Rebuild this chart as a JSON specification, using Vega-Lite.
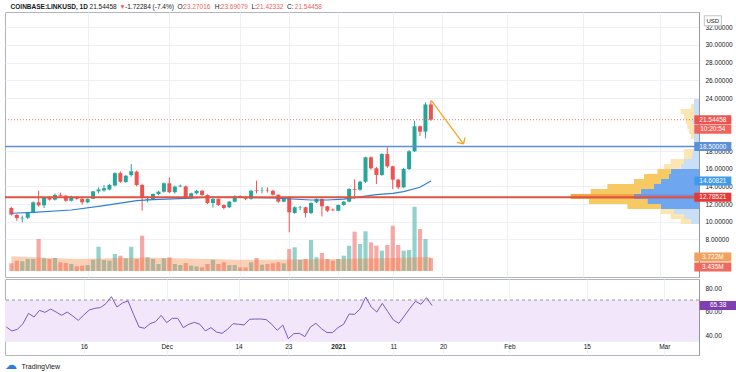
{
"$schema":"https://vega.github.io/schema/vega-lite/v6.json",
"padding":{"left":3,"top":2,"right":0,"bottom":0},
"background":"white",
"config":{"font":"Liberation Sans","view":{"stroke":"#b2b5be","strokeWidth":1},"axis":{"labelFont":"Liberation Sans","labelFontSize":6.5,"labelColor":"#131722","labelOverlap":false}},
"datasets":{
"candles":[
{"d":"2020-11-02","o":11.56,"h":11.70,"l":10.70,"c":10.81,"v":2.05,"rsi":47.3},
{"d":"2020-11-03","o":10.78,"h":10.85,"l":10.10,"c":10.42,"v":2.74,"rsi":43.95},
{"d":"2020-11-04","o":10.38,"h":10.70,"l":9.95,"c":10.45,"v":2.58,"rsi":45.35},
{"d":"2020-11-05","o":10.45,"h":11.10,"l":10.30,"c":11.00,"v":3.19,"rsi":50.1},
{"d":"2020-11-06","o":11.00,"h":12.30,"l":10.95,"c":12.20,"v":3.19,"rsi":58.8},
{"d":"2020-11-07","o":12.20,"h":13.50,"l":11.70,"c":11.86,"v":8.51,"rsi":55.7},
{"d":"2020-11-08","o":11.86,"h":12.80,"l":11.55,"c":12.70,"v":3.38,"rsi":61.3},
{"d":"2020-11-09","o":12.77,"h":12.90,"l":12.40,"c":12.50,"v":3.19,"rsi":59.6},
{"d":"2020-11-10","o":12.50,"h":13.20,"l":12.40,"c":13.03,"v":3.46,"rsi":62.4},
{"d":"2020-11-11","o":13.05,"h":13.30,"l":12.80,"c":12.95,"v":2.31,"rsi":59.9},
{"d":"2020-11-12","o":12.95,"h":13.00,"l":12.25,"c":12.38,"v":2.13,"rsi":57.1},
{"d":"2020-11-13","o":12.38,"h":12.95,"l":12.30,"c":12.84,"v":1.86,"rsi":59.9},
{"d":"2020-11-14","o":12.84,"h":12.90,"l":12.50,"c":12.60,"v":1.25,"rsi":56.6},
{"d":"2020-11-15","o":12.60,"h":12.65,"l":11.95,"c":12.20,"v":1.41,"rsi":52.9},
{"d":"2020-11-16","o":12.20,"h":12.65,"l":12.10,"c":12.57,"v":1.60,"rsi":57.4},
{"d":"2020-11-17","o":12.60,"h":13.50,"l":12.55,"c":13.44,"v":3.00,"rsi":61.6},
{"d":"2020-11-18","o":13.44,"h":13.90,"l":13.20,"c":13.65,"v":6.46,"rsi":63.0},
{"d":"2020-11-19","o":13.55,"h":14.16,"l":13.40,"c":13.79,"v":2.93,"rsi":63.6},
{"d":"2020-11-20","o":13.65,"h":14.30,"l":13.55,"c":14.16,"v":2.74,"rsi":66.9},
{"d":"2020-11-21","o":14.10,"h":15.60,"l":14.00,"c":15.50,"v":4.52,"rsi":72.8},
{"d":"2020-11-22","o":15.50,"h":15.70,"l":14.40,"c":14.53,"v":4.07,"rsi":64.1},
{"d":"2020-11-23","o":14.50,"h":15.30,"l":14.40,"c":15.20,"v":3.38,"rsi":67.5},
{"d":"2020-11-24","o":15.29,"h":16.53,"l":15.10,"c":15.71,"v":6.46,"rsi":69.2},
{"d":"2020-11-25","o":15.67,"h":15.80,"l":14.00,"c":14.16,"v":3.19,"rsi":57.96},
{"d":"2020-11-26","o":14.16,"h":14.30,"l":11.25,"c":12.77,"v":9.39,"rsi":47.3},
{"d":"2020-11-27","o":12.50,"h":12.90,"l":12.20,"c":12.60,"v":3.64,"rsi":46.2},
{"d":"2020-11-28","o":12.57,"h":13.20,"l":12.50,"c":13.14,"v":3.19,"rsi":50.1},
{"d":"2020-11-29","o":13.14,"h":13.50,"l":13.00,"c":13.40,"v":1.86,"rsi":51.8},
{"d":"2020-11-30","o":13.40,"h":14.45,"l":13.30,"c":14.35,"v":3.38,"rsi":57.1},
{"d":"2020-12-01","o":14.35,"h":15.03,"l":13.25,"c":13.34,"v":3.64,"rsi":50.96},
{"d":"2020-12-02","o":13.34,"h":14.10,"l":13.20,"c":13.97,"v":1.86,"rsi":54.6},
{"d":"2020-12-03","o":14.00,"h":14.20,"l":13.90,"c":14.08,"v":1.60,"rsi":54.6},
{"d":"2020-12-04","o":14.00,"h":14.10,"l":12.55,"c":12.65,"v":2.13,"rsi":46.8},
{"d":"2020-12-05","o":12.65,"h":13.30,"l":12.55,"c":13.22,"v":1.41,"rsi":49.6},
{"d":"2020-12-06","o":13.22,"h":13.60,"l":13.10,"c":13.50,"v":1.25,"rsi":51.2},
{"d":"2020-12-07","o":13.50,"h":13.60,"l":12.95,"c":13.03,"v":0.98,"rsi":49.6},
{"d":"2020-12-08","o":13.03,"h":13.10,"l":12.00,"c":12.12,"v":1.86,"rsi":43.95},
{"d":"2020-12-09","o":12.12,"h":12.70,"l":11.60,"c":12.57,"v":3.00,"rsi":46.8},
{"d":"2020-12-10","o":12.57,"h":12.65,"l":11.80,"c":11.90,"v":1.86,"rsi":43.1},
{"d":"2020-12-11","o":11.90,"h":11.95,"l":11.40,"c":11.56,"v":2.31,"rsi":42.0},
{"d":"2020-12-12","o":11.64,"h":12.35,"l":11.55,"c":12.27,"v":1.60,"rsi":45.35},
{"d":"2020-12-13","o":12.27,"h":13.00,"l":12.20,"c":12.88,"v":1.60,"rsi":50.1},
{"d":"2020-12-14","o":12.90,"h":13.00,"l":12.70,"c":12.80,"v":0.98,"rsi":49.6},
{"d":"2020-12-15","o":12.80,"h":12.90,"l":12.45,"c":12.60,"v":0.98,"rsi":49.0},
{"d":"2020-12-16","o":12.60,"h":13.60,"l":12.50,"c":13.50,"v":2.31,"rsi":53.8},
{"d":"2020-12-17","o":13.55,"h":14.65,"l":13.20,"c":13.48,"v":3.46,"rsi":54.0},
{"d":"2020-12-18","o":13.48,"h":13.90,"l":13.20,"c":13.52,"v":1.68,"rsi":54.0},
{"d":"2020-12-19","o":13.60,"h":13.90,"l":13.30,"c":13.55,"v":1.86,"rsi":53.5},
{"d":"2020-12-20","o":13.50,"h":13.60,"l":12.95,"c":13.06,"v":2.05,"rsi":49.6},
{"d":"2020-12-21","o":13.06,"h":13.10,"l":12.15,"c":12.27,"v":2.31,"rsi":44.5},
{"d":"2020-12-22","o":12.27,"h":12.85,"l":12.20,"c":12.77,"v":2.05,"rsi":49.0},
{"d":"2020-12-23","o":12.77,"h":12.90,"l":8.80,"c":11.07,"v":5.85,"rsi":37.5},
{"d":"2020-12-24","o":10.99,"h":11.75,"l":10.90,"c":11.64,"v":6.30,"rsi":41.7},
{"d":"2020-12-25","o":11.60,"h":11.80,"l":11.30,"c":11.65,"v":3.00,"rsi":42.0},
{"d":"2020-12-26","o":11.64,"h":11.70,"l":10.50,"c":10.99,"v":3.19,"rsi":39.2},
{"d":"2020-12-27","o":10.99,"h":12.20,"l":10.85,"c":12.12,"v":8.24,"rsi":47.3},
{"d":"2020-12-28","o":12.20,"h":12.65,"l":12.10,"c":12.57,"v":3.64,"rsi":50.4},
{"d":"2020-12-29","o":12.57,"h":12.65,"l":10.60,"c":11.75,"v":4.79,"rsi":45.9},
{"d":"2020-12-30","o":11.75,"h":11.80,"l":11.10,"c":11.25,"v":3.19,"rsi":42.6},
{"d":"2020-12-31","o":11.38,"h":11.50,"l":11.20,"c":11.30,"v":2.74,"rsi":42.6},
{"d":"2021-01-01","o":11.25,"h":11.95,"l":11.20,"c":11.90,"v":3.19,"rsi":46.8},
{"d":"2021-01-02","o":11.90,"h":12.35,"l":11.80,"c":12.27,"v":4.07,"rsi":49.6},
{"d":"2021-01-03","o":12.27,"h":13.80,"l":12.20,"c":13.70,"v":6.73,"rsi":58.2},
{"d":"2021-01-04","o":13.70,"h":14.80,"l":12.60,"c":13.62,"v":10.45,"rsi":57.96},
{"d":"2021-01-05","o":13.63,"h":14.65,"l":13.50,"c":14.53,"v":7.18,"rsi":62.7},
{"d":"2021-01-06","o":14.53,"h":17.35,"l":14.40,"c":17.29,"v":10.56,"rsi":72.5},
{"d":"2021-01-07","o":17.29,"h":17.40,"l":15.90,"c":16.05,"v":7.63,"rsi":64.1},
{"d":"2021-01-08","o":16.05,"h":16.20,"l":14.27,"c":15.29,"v":6.73,"rsi":59.9},
{"d":"2021-01-09","o":15.29,"h":17.75,"l":15.20,"c":17.66,"v":5.40,"rsi":67.2},
{"d":"2021-01-10","o":17.66,"h":18.42,"l":16.10,"c":16.27,"v":6.91,"rsi":60.2},
{"d":"2021-01-11","o":16.27,"h":16.35,"l":13.70,"c":14.76,"v":12.05,"rsi":53.2},
{"d":"2021-01-12","o":14.76,"h":14.85,"l":13.70,"c":13.90,"v":6.91,"rsi":50.4},
{"d":"2021-01-13","o":13.90,"h":16.10,"l":13.80,"c":15.97,"v":5.40,"rsi":56.6},
{"d":"2021-01-14","o":15.97,"h":18.10,"l":15.85,"c":17.97,"v":5.59,"rsi":63.0},
{"d":"2021-01-15","o":17.97,"h":21.43,"l":17.90,"c":20.80,"v":17.10,"rsi":68.9},
{"d":"2021-01-16","o":20.80,"h":20.90,"l":19.70,"c":20.19,"v":11.17,"rsi":66.4},
{"d":"2021-01-17","o":20.19,"h":23.50,"l":19.44,"c":23.27,"v":8.51,"rsi":71.96},
{"d":"2021-01-18","o":23.27016,"h":23.69079,"l":21.42332,"c":21.54458,"v":3.435,"rsi":65.38}
],
"sma":[
{"d":"2020-11-02","sma":10.96},{"d":"2020-11-06","sma":11.07},{"d":"2020-11-13","sma":11.33},{"d":"2020-11-19","sma":11.82},{"d":"2020-11-25","sma":12.38},{"d":"2020-11-28","sma":12.5},{"d":"2020-12-04","sma":12.65},{"d":"2020-12-08","sma":12.77},{"d":"2020-12-14","sma":12.77},{"d":"2020-12-20","sma":12.69},{"d":"2020-12-27","sma":12.46},{"d":"2020-12-30","sma":12.46},{"d":"2021-01-02","sma":12.57},{"d":"2021-01-08","sma":13.06},{"d":"2021-01-11","sma":13.22},{"d":"2021-01-13","sma":13.4},{"d":"2021-01-16","sma":13.9},{"d":"2021-01-18","sma":14.60821}
],
"vma":[
{"d":"2020-11-02","vma":3.9},{"d":"2020-11-08","vma":3.5},{"d":"2020-11-14","vma":3.2},{"d":"2020-11-20","vma":3.4},{"d":"2020-11-27","vma":3.6},{"d":"2020-12-04","vma":3.3},{"d":"2020-12-14","vma":3.0},{"d":"2020-12-23","vma":3.05},{"d":"2021-01-01","vma":3.2},{"d":"2021-01-09","vma":3.4},{"d":"2021-01-18","vma":3.722}
],
"profile":[
{"lo":23.321,"hi":23.887,"up":0.72,"total":0.72,"zone":"out"},
{"lo":22.756,"hi":23.321,"up":0.72,"total":1.15,"zone":"out"},
{"lo":22.190,"hi":22.756,"up":0.72,"total":2.64,"zone":"out"},
{"lo":21.624,"hi":22.190,"up":0.72,"total":2.16,"zone":"out"},
{"lo":21.059,"hi":21.624,"up":0.97,"total":1.93,"zone":"out"},
{"lo":20.493,"hi":21.059,"up":0.72,"total":1.69,"zone":"out"},
{"lo":19.928,"hi":20.493,"up":0.72,"total":1.44,"zone":"out"},
{"lo":19.362,"hi":19.928,"up":0.72,"total":1.15,"zone":"out"},
{"lo":18.796,"hi":19.362,"up":0.72,"total":0.72,"zone":"out"},
{"lo":18.231,"hi":18.796,"up":0.72,"total":0.72,"zone":"out"},
{"lo":17.665,"hi":18.231,"up":0.97,"total":2.16,"zone":"out"},
{"lo":17.100,"hi":17.665,"up":1.0,"total":2.16,"zone":"out"},
{"lo":16.534,"hi":17.100,"up":2.16,"total":4.08,"zone":"out"},
{"lo":15.968,"hi":16.534,"up":2.64,"total":5.04,"zone":"out"},
{"lo":15.403,"hi":15.968,"up":4.08,"total":6.0,"zone":"va"},
{"lo":14.837,"hi":15.403,"up":4.32,"total":7.93,"zone":"va"},
{"lo":14.271,"hi":14.837,"up":5.52,"total":9.37,"zone":"va"},
{"lo":13.706,"hi":14.271,"up":6.48,"total":13.2,"zone":"va"},
{"lo":13.140,"hi":13.706,"up":8.4,"total":15.6,"zone":"va"},
{"lo":12.575,"hi":13.140,"up":9.37,"total":18.49,"zone":"poc"},
{"lo":12.009,"hi":12.575,"up":7.45,"total":15.85,"zone":"va"},
{"lo":11.443,"hi":12.009,"up":5.52,"total":10.32,"zone":"va"},
{"lo":10.878,"hi":11.443,"up":3.6,"total":5.52,"zone":"out"},
{"lo":10.312,"hi":10.878,"up":2.16,"total":4.08,"zone":"out"},
{"lo":9.747,"hi":10.312,"up":1.2,"total":2.64,"zone":"out"}
],
"levels":[{"price":18.5,"kind":"level"},{"price":12.78521,"kind":"support"},{"price":21.54458,"kind":"last"}],
"arrow":[
{"x1":"2021-01-18T01:40:00Z","y1":23.72,"x2":"2021-01-23T23:15:00Z","y2":18.80},
{"x1":"2021-01-22T18:40:00Z","y1":18.99,"x2":"2021-01-23T23:15:00Z","y2":18.80},
{"x1":"2021-01-24T06:45:00Z","y1":19.55,"x2":"2021-01-23T23:15:00Z","y2":18.80}
],
"plabels":[
{"text":"21.54458","price":21.54458,"kind":"last"},
{"text":"18.50000","price":18.5,"kind":"level"},
{"text":"14.60821","price":14.60821,"kind":"sma"},
{"text":"12.78521","price":12.78521,"kind":"support"}
],
"timer":[{"text":"10:20:54","price":21.54458}],
"vlabels":[{"text":"3.722M","v":3.722,"kind":"vma"}],
"vlabels2":[{"text":"3.435M","v":3.435,"kind":"vol"}],
"rlabels":[{"text":"65.38","rsi":65.38}]
},
"spacing":0,
"resolve":{"scale":{"x":"independent","y":"independent","color":"independent"}},
"vconcat":[
{
"width":694,"height":265,
"resolve":{"scale":{"x":"independent","y":"independent","color":"independent"}},
"layer":[
{
"data":{"name":"profile"},
"resolve":{"scale":{"color":"independent"}},
"layer":[
{"mark":{"type":"bar"},
"encoding":{
"x":{"field":"up","type":"quantitative","scale":{"domain":[0,100],"reverse":true,"nice":false,"zero":true},"axis":null},
"x2":{"datum":0},
"y":{"field":"lo","type":"quantitative","scale":{"domain":[3.75,33.73],"nice":false,"zero":false},"axis":null},
"y2":{"field":"hi"},
"color":{"field":"zone","type":"nominal","scale":{"domain":["out","va","poc"],"range":["#c9def7","#6ea7ef","#7a92d8"]},"legend":null}}},
{"mark":{"type":"bar"},
"encoding":{
"x":{"field":"total","type":"quantitative"},
"x2":{"field":"up"},
"y":{"field":"lo","type":"quantitative"},
"y2":{"field":"hi"},
"color":{"field":"zone","type":"nominal","scale":{"domain":["out","va","poc"],"range":["#fbe6b2","#f7c962","#f4a447"]},"legend":null}}}
]
},
{
"layer":[
{"data":{"name":"candles"},"mark":{"type":"bar","width":4.2},
"encoding":{
"x":{"field":"d","type":"temporal","scale":{"type":"utc","domain":[{"year":2020,"month":11,"date":1,"hours":18,"utc":true},{"year":2021,"month":3,"date":7,"hours":7,"utc":true}]},
"axis":{"orient":"top","title":null,"ticks":false,"domain":false,"grid":false,"labelPadding":3,"labelAlign":"left","labelOverlap":false,"labelBound":false,"labelFlush":false,"labelFontSize":6.5,"tickCount":40,
"values":[{"year":2020,"month":11,"date":1,"hours":18,"minutes":20,"utc":true},{"year":2020,"month":11,"date":16,"hours":6,"minutes":15,"utc":true},{"year":2020,"month":11,"date":21,"hours":16,"minutes":35,"utc":true},{"year":2020,"month":11,"date":22,"hours":18,"minutes":45,"utc":true},{"year":2020,"month":12,"date":2,"hours":9,"minutes":10,"utc":true},{"year":2020,"month":12,"date":3,"hours":11,"minutes":15,"utc":true},{"year":2020,"month":12,"date":9,"hours":6,"minutes":15,"utc":true},{"year":2020,"month":12,"date":10,"hours":8,"minutes":24,"utc":true},{"year":2020,"month":12,"date":15,"hours":23,"minutes":15,"utc":true},{"year":2020,"month":12,"date":16,"hours":21,"utc":true},{"year":2020,"month":12,"date":22,"hours":11,"minutes":45,"utc":true},{"year":2020,"month":12,"date":23,"hours":22,"minutes":30,"utc":true}],
"labelExpr":"utcmonth(datum.value)==10 ? (utcdate(datum.value)==1 ? 'COINBASE:LINKUSD, 1D' : utcdate(datum.value)==16 ? '21.54458' : utcdate(datum.value)==21 ? '▼' : '-1.72284 (-7.4%)') : (utcdate(datum.value)==2 ? 'O:' : utcdate(datum.value)==3 ? '23.27016' : utcdate(datum.value)==9 ? 'H:' : utcdate(datum.value)==10 ? '23.69079' : utcdate(datum.value)==15 ? 'L:' : utcdate(datum.value)==16 ? '21.42332' : utcdate(datum.value)==22 ? 'C:' : '21.54458')",
"labelColor":{"condition":{"test":"(utcmonth(datum.value)==11 && (utcdate(datum.value)==3 || utcdate(datum.value)==10 || utcdate(datum.value)==16 || utcdate(datum.value)==23)) || (utcmonth(datum.value)==10 && utcdate(datum.value)==21)","value":"#eb5f5c"},"value":"#131722"},
"labelFontWeight":{"condition":{"test":"utcmonth(datum.value)==10 && utcdate(datum.value)==1","value":"bold"},"value":"normal"}}},
"y":{"field":"v","type":"quantitative","scale":{"domain":[-1.6,68.9],"nice":false,"zero":false},"axis":null},
"y2":{"datum":0},
"color":{"condition":{"test":"datum.c >= datum.o","value":"#26a69a"},"value":"#ef5350"},
"opacity":{"value":0.5}}},
{"data":{"name":"vma"},"mark":{"type":"area","color":"#f07832","opacity":0.35},
"encoding":{"x":{"field":"d","type":"temporal"},"y":{"field":"vma","type":"quantitative"},"y2":{"datum":0}}},
{"data":{"name":"vlabels"},"mark":{"type":"tick","orient":"horizontal","size":37,"thickness":9,"opacity":1,"color":"#f3a05c"},
"encoding":{"x":{"datum":{"year":2021,"month":3,"date":10,"hours":18,"utc":true},"type":"temporal"},"y":{"field":"v","type":"quantitative"}}},
{"data":{"name":"vlabels"},"mark":{"type":"text","color":"white","fontSize":6.5},
"encoding":{"x":{"datum":{"year":2021,"month":3,"date":10,"hours":18,"utc":true},"type":"temporal"},"y":{"field":"v","type":"quantitative"},"text":{"field":"text"}}},
{"data":{"name":"vlabels2"},"mark":{"type":"tick","orient":"horizontal","size":37,"thickness":9,"opacity":1,"color":"#ee6a5d","yOffset":9},
"encoding":{"x":{"datum":{"year":2021,"month":3,"date":10,"hours":18,"utc":true},"type":"temporal"},"y":{"field":"v","type":"quantitative"}}},
{"data":{"name":"vlabels2"},"mark":{"type":"text","color":"white","fontSize":6.5,"yOffset":9},
"encoding":{"x":{"datum":{"year":2021,"month":3,"date":10,"hours":18,"utc":true},"type":"temporal"},"y":{"field":"v","type":"quantitative"},"text":{"field":"text"}}}
]
},
{
"layer":[
{"data":{"name":"candles"},"mark":{"type":"rule","strokeWidth":1},
"encoding":{
"x":{"field":"d","type":"temporal","scale":{"type":"utc","domain":[{"year":2020,"month":11,"date":1,"hours":18,"utc":true},{"year":2021,"month":3,"date":7,"hours":7,"utc":true}]},
"axis":{"values":[{"year":2020,"month":11,"date":16,"utc":true},{"year":2020,"month":12,"date":1,"utc":true},{"year":2020,"month":12,"date":14,"utc":true},{"year":2020,"month":12,"date":23,"utc":true},{"year":2021,"month":1,"date":1,"utc":true},{"year":2021,"month":1,"date":11,"utc":true},{"year":2021,"month":1,"date":20,"utc":true},{"year":2021,"month":2,"date":1,"utc":true},{"year":2021,"month":2,"date":15,"utc":true},{"year":2021,"month":3,"date":1,"utc":true}],"tickCount":40,"labels":false,"ticks":false,"domain":false,"grid":true,"gridColor":"#eef0f5","title":null}},
"y":{"field":"l","type":"quantitative","scale":{"domain":[3.75,33.73],"nice":false,"zero":false},
"axis":{"orient":"right","values":[8,10,12,14,16,18,24,26,28,30,32],"tickCount":40,"format":".5f","title":null,"domain":true,"domainColor":"#9598a1","ticks":false,"labelPadding":6,"labelOverlap":false,"labelBound":false,"grid":true,"gridColor":"#eef0f5"}},
"y2":{"field":"h"},
"color":{"condition":{"test":"datum.c >= datum.o","value":"#26a69a"},"value":"#ef5350"}}},
{"data":{"name":"candles"},"mark":{"type":"bar","width":4},
"encoding":{
"x":{"field":"d","type":"temporal"},
"y":{"field":"o","type":"quantitative"},
"y2":{"field":"c"},
"color":{"condition":{"test":"datum.c >= datum.o","value":"#26a69a"},"value":"#ef5350"}}},
{"data":{"name":"sma"},"mark":{"type":"line","color":"#2f7fd4","strokeWidth":1.2},
"encoding":{"x":{"field":"d","type":"temporal"},"y":{"field":"sma","type":"quantitative"}}},
{"data":{"name":"levels"},"transform":[{"filter":"datum.kind === 'level'"}],"mark":{"type":"rule","color":"#5b8fd8","strokeWidth":1.5},
"encoding":{"y":{"field":"price","type":"quantitative"}}},
{"data":{"name":"levels"},"transform":[{"filter":"datum.kind === 'support'"}],"mark":{"type":"rule","color":"#e0533f","strokeWidth":2},
"encoding":{"y":{"field":"price","type":"quantitative"}}},
{"data":{"name":"levels"},"transform":[{"filter":"datum.kind === 'last'"}],"mark":{"type":"rule","color":"#e57373","strokeWidth":1,"strokeDash":[1,2]},
"encoding":{"y":{"field":"price","type":"quantitative"}}},
{"data":{"name":"arrow"},"mark":{"type":"rule","color":"#f5a623","strokeWidth":1.3},
"encoding":{"x":{"field":"x1","type":"temporal"},"x2":{"field":"x2"},"y":{"field":"y1","type":"quantitative"},"y2":{"field":"y2"}}},
{"data":{"name":"plabels"},"mark":{"type":"tick","orient":"horizontal","size":37,"thickness":9,"opacity":1},
"encoding":{"x":{"datum":{"year":2021,"month":3,"date":10,"hours":18,"utc":true},"type":"temporal"},"y":{"field":"price","type":"quantitative"},
"color":{"field":"kind","type":"nominal","scale":{"domain":["last","level","sma","support"],"range":["#ef5350","#5b8fd8","#3d9be9","#e53935"]},"legend":null}}},
{"data":{"name":"plabels"},"mark":{"type":"text","color":"white","fontSize":6.5},
"encoding":{"x":{"datum":{"year":2021,"month":3,"date":10,"hours":18,"utc":true},"type":"temporal"},"y":{"field":"price","type":"quantitative"},"text":{"field":"text"}}},
{"data":{"name":"timer"},"mark":{"type":"tick","orient":"horizontal","size":37,"thickness":9,"opacity":1,"color":"#f0625a","yOffset":9.5},
"encoding":{"x":{"datum":{"year":2021,"month":3,"date":10,"hours":18,"utc":true},"type":"temporal"},"y":{"field":"price","type":"quantitative"}}},
{"data":{"name":"timer"},"mark":{"type":"text","color":"white","fontSize":6.5,"yOffset":9.5},
"encoding":{"x":{"datum":{"year":2021,"month":3,"date":10,"hours":18,"utc":true},"type":"temporal"},"y":{"field":"price","type":"quantitative"},"text":{"field":"text"}}},
{"data":{"values":[{"text":"USD"}]},"mark":{"type":"tick","orient":"horizontal","size":17,"thickness":10,"opacity":1,"color":"white","stroke":"#b2b5be","strokeWidth":0.8},
"encoding":{"x":{"datum":{"year":2021,"month":3,"date":10,"hours":18,"utc":true},"type":"temporal"},"y":{"datum":32.74,"type":"quantitative"}}},
{"data":{"values":[{"text":"USD"}]},"mark":{"type":"text","color":"#131722","fontSize":6},
"encoding":{"x":{"datum":{"year":2021,"month":3,"date":10,"hours":18,"utc":true},"type":"temporal"},"y":{"datum":32.74,"type":"quantitative"},"text":{"field":"text"}}}
]
}
]
},
{
"width":694,"height":76,
"layer":[
{"data":{"values":[{}]},"mark":{"type":"rect","color":"#f2e7fa"},
"encoding":{"y":{"datum":70,"type":"quantitative","scale":{"domain":[23.78,87.65],"nice":false,"zero":false}},"y2":{"datum":34.9}}},
{"data":{"values":[{}]},"mark":{"type":"rule","color":"#9598a1","strokeWidth":1,"strokeDash":[3,3]},
"encoding":{"y":{"datum":70,"type":"quantitative"}}},
{"data":{"name":"candles"},"mark":{"type":"line","color":"#7e57c2","strokeWidth":1},
"encoding":{
"x":{"field":"d","type":"temporal","scale":{"type":"utc","domain":[{"year":2020,"month":11,"date":1,"hours":18,"utc":true},{"year":2021,"month":3,"date":7,"hours":7,"utc":true}]},
"axis":{"values":[{"year":2020,"month":11,"date":16,"utc":true},{"year":2020,"month":12,"date":1,"utc":true},{"year":2020,"month":12,"date":14,"utc":true},{"year":2020,"month":12,"date":23,"utc":true},{"year":2021,"month":1,"date":1,"utc":true},{"year":2021,"month":1,"date":11,"utc":true},{"year":2021,"month":1,"date":20,"utc":true},{"year":2021,"month":2,"date":1,"utc":true},{"year":2021,"month":2,"date":15,"utc":true},{"year":2021,"month":3,"date":1,"utc":true}],"tickCount":40,
"labelExpr":"utcmonth(datum.value)==0 && utcdate(datum.value)==1 ? '2021' : utcdate(datum.value)==1 ? utcFormat(datum.value,'%b') : utcFormat(datum.value,'%-d')",
"labelFontWeight":{"condition":{"test":"utcmonth(datum.value)==0 && utcdate(datum.value)==1","value":"bold"},"value":"normal"},
"labelPadding":-12,"labelOverlap":false,"labelFlush":false,"ticks":false,"domain":false,"grid":true,"gridColor":"#eef0f5",
"title":"TradingView","titleX":16,"titleY":11,"titleAlign":"left","titleBaseline":"middle","titleFontSize":7,"titleFontWeight":"normal","titleColor":"#131722","titleAnchor":null}},
"y":{"field":"rsi","type":"quantitative","axis":{"orient":"right","values":[40,60,80],"tickCount":20,"format":".2f","title":null,"domain":true,"domainColor":"#9598a1","ticks":false,"labelPadding":6,"labelOverlap":false,"labelBound":false,"grid":false}}}},
{"data":{"name":"rlabels"},"mark":{"type":"tick","orient":"horizontal","size":37,"thickness":9,"opacity":1,"color":"#7e3fb0"},
"encoding":{"x":{"datum":{"year":2021,"month":3,"date":10,"hours":18,"utc":true},"type":"temporal"},"y":{"field":"rsi","type":"quantitative"}}},
{"data":{"name":"rlabels"},"mark":{"type":"text","color":"white","fontSize":6.5},
"encoding":{"x":{"datum":{"year":2021,"month":3,"date":10,"hours":18,"utc":true},"type":"temporal"},"y":{"field":"rsi","type":"quantitative"},"text":{"field":"text"}}},
{"data":{"values":[{"text":"☁"}]},"mark":{"type":"text","color":"#2a7de1","fontSize":12},
"encoding":{"x":{"datum":{"year":2020,"month":11,"date":2,"hours":20,"utc":true},"type":"temporal"},"y":{"datum":15.4,"type":"quantitative"},"text":{"field":"text"}}}
]
}
]
}
